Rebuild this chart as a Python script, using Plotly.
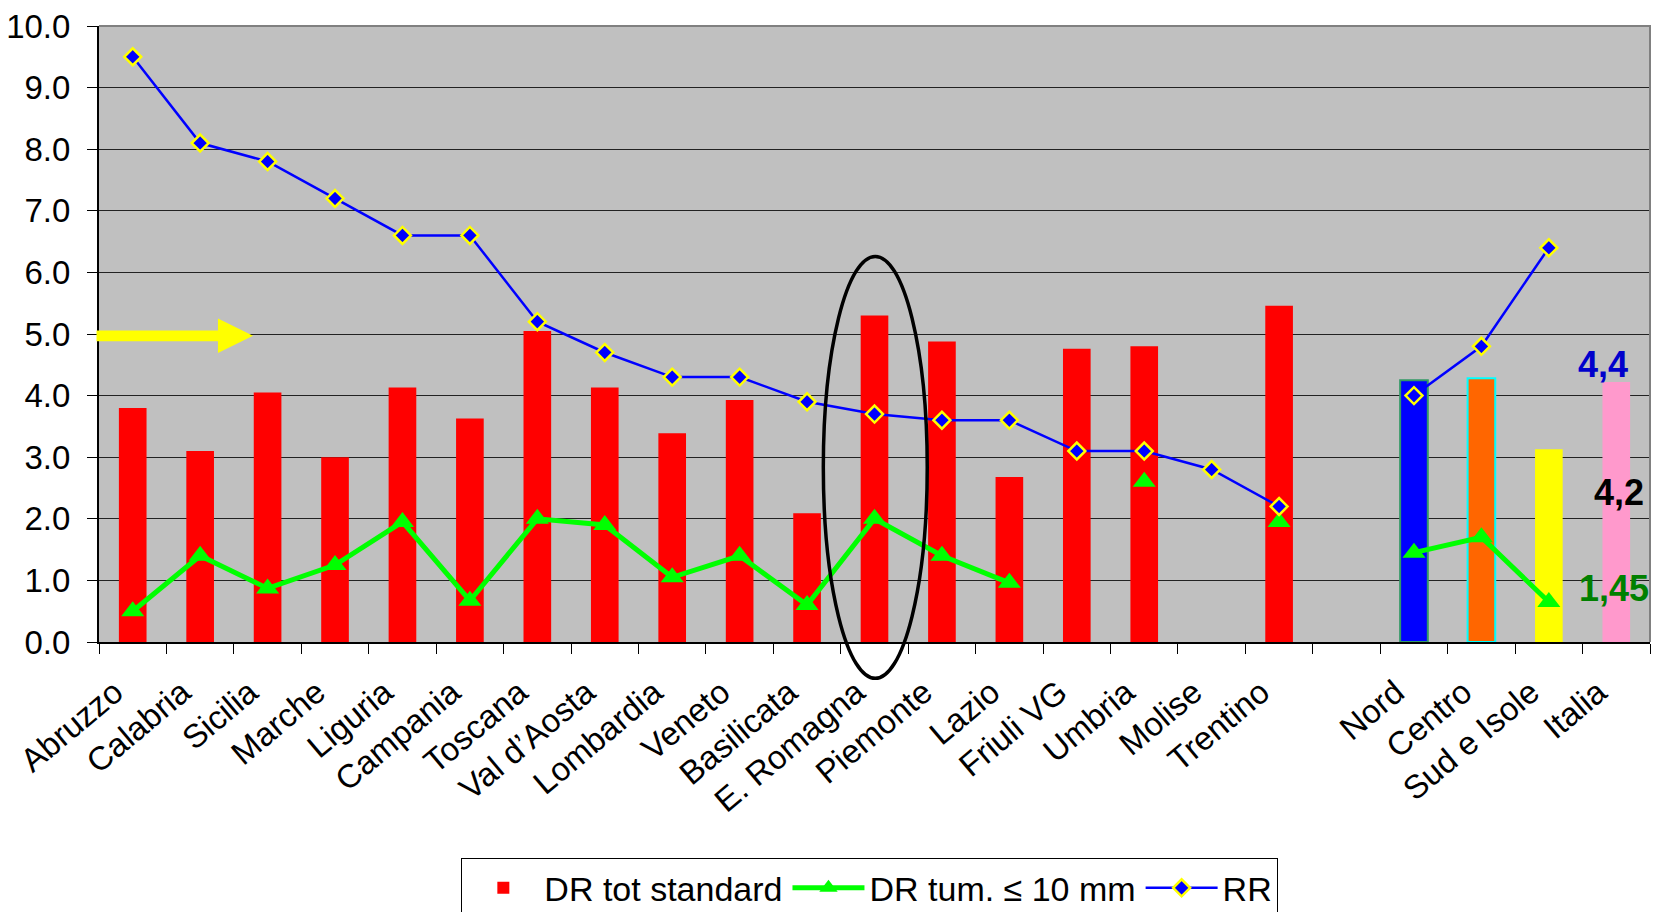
import plotly.graph_objects as go

categories = ["Abruzzo", "Calabria", "Sicilia", "Marche", "Liguria", "Campania", "Toscana",
              "Val d\u2019Aosta", "Lombardia", "Veneto", "Basilicata", "E. Romagna", "Piemonte",
              "Lazio", "Friuli VG", "Umbria", "Molise", "Trentino", " ", "Nord", "Centro",
              "Sud e Isole", "Italia"]

dr_tot = [3.8, 3.1, 4.05, 3.0, 4.13, 3.63, 5.05, 4.13, 3.39, 3.93, 2.09, 5.3, 4.88, 2.68,
          4.76, 4.8, None, 5.46, None, 4.25, 4.28, 3.13, 4.22]

dr_tum = [0.5, 1.4, 0.87, 1.25, 1.95, 0.67, 2.0, 1.9, 1.05, 1.4, 0.6, 2.0, 1.4, 0.96,
          None, 2.6, None, 1.95, None, 1.45, 1.7, 0.65, None]

rr = [9.5, 8.1, 7.8, 7.2, 6.6, 6.6, 5.2, 4.7, 4.3, 4.3, 3.9, 3.7, 3.6, 3.6, 3.1, 3.1,
      2.8, 2.2, None, 4.0, 4.8, 6.4, None]

bar_colors = ["#FF0000"] * 19 + ["#0000FF", "#FF6600", "#FFFF00", "#FF99CC"]
bar_line_colors = ["#FF0000"] * 19 + ["#339966", "#00FFFF", "#FFFF00", "#FF99CC"]
bar_line_widths = [0] * 19 + [2, 2, 0, 0]

y_ticks = [0, 1, 2, 3, 4, 5, 6, 7, 8, 9, 10]

italia_labels = ["4,4", "4,2", "1,45"]
italia_label_colors = ["#0000CC", "#000000", "#008000"]
italia_label_y = [4.5, 2.43, 0.87]
italia_label_shift = [-13, 3, -2]

FONT = "Liberation Sans, Arial, sans-serif"

fig = go.Figure()
fig.add_trace(go.Bar(
    x=categories, y=dr_tot, name="DR tot standard", width=0.41,
    marker=dict(color=bar_colors, line=dict(color=bar_line_colors, width=bar_line_widths)),
))
fig.add_trace(go.Scatter(
    x=categories, y=dr_tum, name="DR tum. \u2264 10 mm", mode="lines+markers",
    line=dict(color="#00FF00", width=5),
    marker=dict(symbol="triangle-up", size=20, color="#00FF00"),
    connectgaps=False,
))
fig.add_trace(go.Scatter(
    x=categories, y=rr, name="RR", mode="lines+markers",
    line=dict(color="#0000FF", width=2.5),
    marker=dict(symbol="diamond", size=13, color="#0000FF", line=dict(color="#FFFF00", width=2.5)),
    connectgaps=False,
))

shapes = []
# top / right border of plot area
shapes.append(dict(type="path", xref="paper", yref="paper", path="M 0,1 L 1,1 L 1,0",
                   line=dict(color="#808080", width=2), layer="above"))
# yellow arrow at the 5.0 level
yc = 0.497
sh = 0.0086
hh = 0.028
x0, xb, xt = -0.0016, 0.0767, 0.0993
arrow_path = (f"M {x0},{yc - sh} L {xb},{yc - sh} L {xb},{yc - hh} L {xt},{yc} "
              f"L {xb},{yc + hh} L {xb},{yc + sh} L {x0},{yc + sh} Z")
shapes.append(dict(type="path", xref="paper", yref="paper", path=arrow_path,
                   fillcolor="#FFFF00", line=dict(width=0), layer="above"))
# ellipse around E. Romagna
shapes.append(dict(type="circle", xref="paper", yref="paper",
                   x0=0.467, x1=0.534, y0=-0.059, y1=0.626,
                   line=dict(color="#000000", width=3.5), layer="above"))

annotations = []
for txt, col, yv, xs in zip(italia_labels, italia_label_colors, italia_label_y, italia_label_shift):
    annotations.append(dict(x="Italia", y=yv, xref="x", yref="y", text=f"<b>{txt}</b>",
                            showarrow=False, xshift=xs, xanchor="center", yanchor="middle",
                            font=dict(family=FONT, size=36, color=col)))

fig.update_layout(
    width=1654, height=912,
    margin=dict(l=99, r=4, t=26, b=270, autoexpand=False),
    paper_bgcolor="#FFFFFF", plot_bgcolor="#C0C0C0",
    font=dict(family=FONT, color="#000000"),
    showlegend=True,
    legend=dict(orientation="h", x=0.497, xanchor="center", y=-0.351, yanchor="top",
                bgcolor="#FFFFFF", bordercolor="#000000", borderwidth=1,
                font=dict(family=FONT, size=34, color="#000000"),
                itemwidth=72, traceorder="normal"),
    shapes=shapes, annotations=annotations,
    xaxis=dict(type="category", categoryorder="array", categoryarray=categories,
               tickson="boundaries", ticks="outside", ticklen=10, tickcolor="#000000", tickwidth=1,
               showline=True, linecolor="#000000", linewidth=2, showgrid=False,
               tickangle=-40, tickfont=dict(family=FONT, size=33, color="#000000"),
               ticklabelstandoff=16, ticklabelshift=-18,
               range=[-0.5, 22.5]),
    yaxis=dict(range=[0, 10], tickvals=y_ticks, tickformat=".1f", ticks="outside", ticklen=10,
               tickcolor="#000000", showline=True, linecolor="#000000", linewidth=2,
               showgrid=True, gridcolor="#222222", gridwidth=1, zeroline=False,
               ticklabelstandoff=10,
               tickfont=dict(family=FONT, size=33, color="#000000")),
)

fig.write_html("out.html", config={"displayModeBar": False},
               post_script="document.body.style.margin='0';document.body.style.overflow='hidden';")
